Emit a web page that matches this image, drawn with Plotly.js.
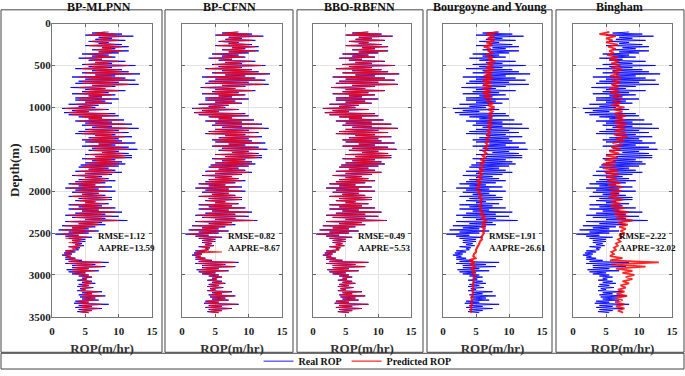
<!DOCTYPE html>
<html><head><meta charset="utf-8">
<script src="https://cdn.plot.ly/plotly-3.0.1.min.js"></script>
<style>html,body{margin:0;padding:0;background:#fff}#chart{width:685px;height:376px}</style>
</head><body><div id="chart"></div>
<script>
var panelTitles = ["BP-MLPNN", "BP-CFNN", "BBO-RBFNN", "Bourgoyne and Young", "Bingham"];
var rmseVals = ["1.12", "0.82", "0.49", "1.91", "2.22"];
var aapreVals = ["13.59", "8.67", "5.53", "26.61", "32.02"];
var xTicks = [0, 5, 10, 15];
var yTicks = [0, 500, 1000, 1500, 2000, 2500, 3000, 3500];

var depthFine = [100,112.5,125,137.5,150,162.5,175,187.5, 200,212.5,225,237.5,250,262.5,275,287.5, 300,312.5,325,337.5,350,362.5,375,387.5, 400,412.5,425,437.5,450,462.5,475,487.5, 500,512.5,525,537.5,550,562.5,575,587.5, 600,612.5,625,637.5,650,662.5,675,687.5, 700,712.5,725,737.5,750,762.5,775,787.5, 800,812.5,825,837.5,850,862.5,875,887.5, 900,912.5,925,937.5,950,962.5,975,987.5, 1000,1012.5,1025,1037.5,1050,1062.5,1075,1087.5, 1100,1112.5,1125,1137.5,1150,1162.5,1175,1187.5, 1200,1212.5,1225,1237.5,1250,1262.5,1275,1287.5, 1300,1312.5,1325,1337.5,1350,1362.5,1375,1387.5, 1400,1412.5,1425,1437.5,1450,1462.5,1475,1487.5, 1500,1512.5,1525,1537.5,1550,1562.5,1575,1587.5, 1600,1612.5,1625,1637.5,1650,1662.5,1675,1687.5, 1700,1712.5,1725,1737.5,1750,1762.5,1775,1787.5, 1800,1812.5,1825,1837.5,1850,1862.5,1875,1887.5, 1900,1912.5,1925,1937.5,1950,1962.5,1975,1987.5, 2000,2012.5,2025,2037.5,2050,2062.5,2075,2087.5, 2100,2112.5,2125,2137.5,2150,2162.5,2175,2187.5, 2200,2212.5,2225,2237.5,2250,2262.5,2275,2287.5, 2300,2312.5,2325,2337.5,2350,2362.5,2375,2387.5, 2400,2412.5,2425,2437.5,2450,2462.5,2475,2487.5, 2500,2512.5,2525,2537.5,2550,2562.5,2575,2587.5, 2600,2612.5,2625,2637.5,2650,2662.5,2675,2687.5, 2700,2712.5,2725,2737.5,2750,2762.5,2775,2787.5, 2800,2812.5,2825,2837.5,2850,2862.5,2875,2887.5, 2900,2912.5,2925,2937.5,2950,2962.5,2975,2987.5, 3000,3012.5,3025,3037.5,3050,3062.5,3075,3087.5, 3100,3112.5,3125,3137.5,3150,3162.5,3175,3187.5, 3200,3212.5,3225,3237.5,3250,3262.5,3275,3287.5, 3300,3312.5,3325,3337.5,3350,3362.5,3375,3387.5, 3400,3412.5,3425,3437.5,3450];

var depthCoarse = [100,125,150,175,200,225,250,275,300,325,350,375,400,425,450,475,500,525,550,575,600,625,650,675,700,725,750,775,800,825,850,875,900,925,950,975,1000,1025,1050,1075,1100,1125,1150,1175,1200,1225,1250,1275,1300,1325,1350,1375,1400,1425,1450,1475,1500,1525,1550,1575,1600,1625,1650,1675,1700,1725,1750,1775,1800,1825,1850,1875,1900,1925,1950,1975,2000,2025,2050,2075,2100,2125,2150,2175,2200,2225,2250,2275,2300,2325,2350,2375,2400,2425,2450,2475,2500,2525,2550,2575,2600,2625,2650,2675,2700,2725,2750,2775,2800,2825,2850,2875,2900,2925,2950,2975,3000,3025,3050,3075,3100,3125,3150,3175,3200,3225,3250,3275,3300,3325,3350,3375,3400,3425,3450];

var realROP = [8.5,6.0,10.5,5.0,12.2,7.0,9.0,6.5, 11.0,5.5,8.5,7.0,10.5,5.0,11.5,7.5, 9.5,6.0,11.5,7.0,10.0,4.5,8.5,6.0, 9.5,4.0,7.5,5.5,11.0,6.5,9.0,4.5, 12.5,5.5,9.0,3.5,10.5,6.0,11.5,4.5, 13.2,6.5,9.5,3.0,11.0,5.0,12.5,4.0, 10.0,3.5,13.0,6.0,9.5,2.8,8.0,5.0, 11.0,4.5,8.5,3.0,9.5,5.5,7.5,3.5, 10.0,3.5,8.0,5.0,9.0,2.5,7.0,4.0, 6.5,1.5,8.5,3.0,5.5,1.8,9.5,2.5, 10.0,4.0,7.5,5.5,10.8,3.5,9.0,5.0, 12.0,4.5,9.0,6.0,13.0,5.0,10.0,4.0, 11.5,3.5,9.5,6.5,12.0,5.5,10.0,4.5, 10.5,5.0,12.5,7.0,9.5,4.5,11.5,6.0, 12.8,5.5,10.0,7.5,11.5,5.0,12.0,6.5, 12.0,4.5,9.5,6.0,10.5,5.0,11.0,4.3, 10.0,4.0,8.5,5.5,9.5,3.5,10.5,5.0, 9.0,3.0,7.5,5.0,8.5,4.0,9.5,3.5, 8.0,2.5,6.5,4.0,9.0,2.0,7.0,3.5, 9.5,3.0,7.0,4.5,8.0,2.5,9.0,4.0, 9.0,3.5,6.5,5.0,8.5,2.5,7.5,4.0, 9.5,2.5,7.0,4.5,10.5,3.5,8.0,2.0, 10.0,3.0,8.0,5.0,11.3,2.0,7.5,4.0, 8.0,1.5,6.5,3.0,5.5,1.0,7.0,2.5, 5.5,0.5,4.0,2.0,6.0,2.5,5.0,3.0, 5.0,3.0,4.5,3.5,4.8,2.5,4.2,3.5, 4.0,2.0,3.5,1.8,3.0,1.5,2.8,2.0, 3.5,2.0,4.5,2.5,8.5,2.0,6.5,3.0, 8.0,3.0,5.5,2.2,7.0,2.5,5.0,3.0, 5.5,4.0,6.0,4.5,5.2,3.8,6.0,4.5, 6.5,4.0,5.5,3.8,6.2,4.2,5.0,3.8, 7.5,4.5,6.0,4.0,8.0,4.2,6.5,4.5, 7.0,3.5,5.5,3.3,8.5,4.0,6.0,3.5, 7.5,4.0,6.0,3.8,5.5];

var predMLPNN = [8.0,6.5,9.5,5.5,11.0,7.5,8.5,7.0, 10.0,6.0,8.0,7.5,9.5,5.5,10.5,7.5, 9.0,6.5,10.5,7.0,9.0,5.5,8.0,6.5, 9.0,5.0,7.5,6.0,10.0,6.5,8.5,5.0, 11.5,6.0,8.5,4.5,10.0,6.5,10.5,5.0, 12.0,6.5,9.0,4.0,10.5,5.5,11.5,4.5, 9.5,4.5,11.5,6.0,9.0,4.0,8.0,5.5, 10.0,5.0,8.0,4.0,9.0,5.5,7.5,4.0, 9.0,4.0,7.5,5.0,8.5,3.5,6.5,4.5, 6.0,2.0,8.0,3.5,5.5,2.5,8.5,3.0, 9.5,4.5,7.5,5.5,10.0,4.0,8.5,5.5, 11.0,5.0,8.5,6.5,11.5,5.5,9.5,5.0, 10.5,4.5,9.0,6.5,11.0,6.0,9.5,5.0, 10.0,5.5,11.0,7.0,9.0,5.5,10.5,6.5, 11.5,6.0,9.5,7.5,10.5,5.5,11.0,6.5, 11.0,5.0,9.0,6.5,10.0,5.5,10.0,5.0, 9.5,4.5,8.0,5.5,9.0,4.0,9.5,5.0, 8.5,3.5,7.0,5.0,8.0,4.5,8.5,4.0, 7.5,3.0,6.5,4.5,8.0,2.5,6.5,4.0, 8.5,3.5,7.0,4.5,7.5,3.0,8.5,4.5, 8.5,4.0,6.5,5.0,8.0,3.0,7.0,4.5, 9.0,3.0,7.0,4.5,9.5,4.0,7.5,2.5, 9.0,3.5,7.5,5.0,10.0,2.5,7.0,4.0, 7.0,2.0,6.0,3.0,5.0,1.5,6.5,3.0, 5.0,1.5,4.0,2.5,5.5,2.0,4.5,3.0, 4.5,2.5,4.0,3.5,4.5,2.5,4.0,3.0, 3.5,2.0,3.2,2.0,3.0,1.8,2.8,2.2, 3.5,2.5,4.0,2.5,7.5,2.5,6.0,3.5, 7.5,3.5,5.5,3.0,6.5,3.0,5.0,3.5, 5.5,4.5,6.0,4.8,5.2,4.2,5.8,4.8, 6.0,4.5,5.5,4.2,6.0,4.5,5.0,4.2, 7.0,5.0,6.0,4.5,7.5,4.5,6.5,4.8, 6.5,4.0,5.5,3.8,7.5,4.5,6.0,4.0, 7.0,4.5,6.0,4.2,5.5];

var predCFNN = [8.3,6.2,10.0,5.3,11.7,7.2,8.8,6.7, 10.5,5.8,8.3,7.2,10.0,5.3,11.0,7.5, 9.3,6.2,11.0,7.0,9.6,4.8,8.3,6.2, 9.3,4.5,7.5,5.8,10.5,6.5,8.8,4.8, 12.0,5.8,8.8,3.8,10.2,6.2,11.0,4.8, 12.7,6.5,9.3,3.5,10.8,5.2,12.0,4.3, 9.8,3.8,12.3,6.0,9.3,3.2,8.0,5.2, 10.5,4.8,8.3,3.5,9.3,5.5,7.5,3.8, 9.5,3.8,7.8,5.0,8.8,2.8,7.0,4.2, 6.3,1.8,8.3,3.2,5.5,2.0,9.0,2.8, 9.8,4.2,7.5,5.5,10.5,3.8,8.8,5.2, 11.5,4.8,8.8,6.2,12.3,5.2,9.8,4.3, 11.0,3.8,9.3,6.5,11.5,5.8,9.8,4.8, 10.3,5.2,11.8,7.0,9.3,4.8,11.0,6.2, 12.2,5.8,9.8,7.5,11.0,5.2,11.5,6.5, 11.3,4.8,9.3,6.2,10.2,5.2,10.5,4.5, 9.8,4.2,8.3,5.5,9.3,3.8,10.0,5.0, 8.8,3.3,7.5,5.0,8.3,4.2,9.0,3.8, 7.8,2.8,6.5,4.2,8.5,2.3,7.0,3.8, 9.0,3.3,7.0,4.5,7.8,2.8,8.8,4.2, 8.8,3.8,6.5,5.0,8.3,2.8,7.5,4.2, 9.3,2.8,7.0,4.5,10.0,3.8,7.8,2.3, 9.5,3.3,8.0,5.0,10.8,2.3,7.5,4.2, 7.5,1.8,6.3,3.2,5.3,1.3,6.8,2.8, 5.3,1.0,4.0,2.2,5.8,2.7,4.8,3.2, 4.8,3.2,4.5,3.5,4.7,2.8,4.2,3.5, 3.8,2.2,6.0,2.0,3.0,1.7,2.8,2.2, 3.5,2.2,4.3,2.7,8.0,2.3,6.3,3.2, 7.8,3.2,5.5,2.5,6.8,2.7,5.0,3.2, 5.5,4.2,6.0,4.7,5.2,4.0,5.8,4.7, 6.3,4.2,5.5,4.0,6.0,4.3,5.0,4.0, 7.3,4.7,6.0,4.2,7.8,4.3,6.5,4.7, 6.8,3.7,5.5,3.5,8.2,4.2,6.0,3.7, 7.3,4.2,6.0,4.0,5.5];

var predRBFNN = [8.4,6.1,10.3,5.1,12.0,7.1,8.9,6.6, 10.8,5.6,8.4,7.1,10.3,5.1,11.3,7.5, 9.4,6.1,11.3,7.0,9.8,4.6,8.4,6.1, 9.4,4.2,7.5,5.6,10.8,6.5,8.9,4.6, 12.3,5.6,8.9,3.6,10.4,6.1,11.3,4.6, 13.0,6.5,9.4,3.1,10.9,5.1,12.3,4.1, 9.9,3.6,12.8,6.0,9.4,2.9,8.0,5.1, 10.8,4.6,8.4,3.1,9.4,5.5,7.5,3.6, 9.8,3.6,7.9,5.0,8.9,2.6,7.0,4.1, 6.4,1.6,8.4,3.1,5.5,1.9,9.3,2.6, 9.9,4.1,7.5,5.5,10.7,3.6,8.9,5.1, 11.8,4.6,8.9,6.1,12.8,5.1,9.9,4.1, 11.4,3.6,9.4,6.5,11.8,5.6,9.9,4.6, 10.4,5.1,12.3,7.0,9.4,4.6,11.4,6.1, 12.6,5.6,9.9,7.5,11.4,5.1,11.8,6.5, 11.8,4.6,9.4,6.1,10.4,5.1,10.9,4.4, 9.9,4.1,8.4,5.5,9.4,3.6,10.4,5.0, 8.9,3.1,7.5,5.0,8.4,4.1,9.4,3.6, 7.9,2.6,6.5,4.1,8.9,2.1,7.0,3.6, 9.4,3.1,7.0,4.5,7.9,2.6,8.9,4.1, 8.9,3.6,6.5,5.0,8.4,2.6,7.5,4.1, 9.4,2.6,7.0,4.5,10.4,3.6,7.9,2.1, 9.9,3.1,8.0,5.0,11.1,2.1,7.5,4.1, 7.9,1.6,6.4,3.1,5.5,1.1,6.9,2.6, 5.5,0.7,4.0,2.1,5.9,2.6,5.0,3.1, 4.9,3.1,4.5,3.5,4.8,2.6,4.2,3.5, 4.0,2.1,3.5,1.9,3.0,1.6,2.8,2.1, 3.5,2.1,4.5,2.6,8.3,2.1,6.4,3.1, 7.9,3.1,5.5,2.3,6.9,2.6,5.0,3.1, 5.5,4.1,6.0,4.6,5.2,3.9,5.9,4.6, 6.4,4.1,5.5,3.9,6.1,4.3,5.0,3.9, 7.4,4.6,6.0,4.1,7.9,4.3,6.5,4.6, 6.9,3.6,5.5,3.4,8.4,4.1,6.0,3.6, 7.4,4.1,6.0,3.9,5.5];

var predBY = [8.3,6.5,7.8,6.8, 7.8,6.6,7.5,6.2, 7.2,6.8,7.6,6.5, 7.5,6.8,7.9,6.7, 7.6,6.5,7.8,6.3, 7.4,6.2,7.6,6.0, 7.3,6.1,7.4,6.0, 7.2,6.0,7.3,6.2, 7.4,6.6,7.6,6.8, 7.8,6.9,7.5,7.0, 7.4,7.0,7.3,6.9, 7.4,6.8,7.2,6.8, 7.1,6.7,7.0,6.6, 6.9,6.5,6.8,6.4, 6.7,6.2,6.6,6.0, 6.4,5.8,6.3,5.6, 6.2,5.6,6.0,5.5, 5.9,5.4,5.8,5.2, 5.7,5.3,5.6,5.0, 5.6,5.4,5.8,5.5, 5.9,5.6,5.8,5.5, 5.8,5.6,6.0,5.7, 6.3,5.9,6.5,6.0, 6.4,5.9,6.3,6.0, 6.2,6.0,5.8,5.9, 5.6,5.5,5.3,5.2, 5.0,5.0,4.7,4.6, 4.9,4.0,4.8,4.1, 4.9,4.2,4.8,4.5, 4.8,4.7,4.7,4.6, 4.6,4.5,4.6,4.5, 4.5,4.4,4.5,4.3, 4.4,4.3,4.4,4.2, 4.3,4.2,4.3];

var predBingham = [5.5,4.0,6.5,5.0, 6.0,5.0,6.8,5.3, 6.5,5.5,6.2,5.2, 6.8,5.5,7.0,5.8, 7.2,5.8,7.5,6.0, 7.0,5.6,7.4,5.9, 7.2,5.8,7.0,5.5, 7.0,5.6,7.3,6.0, 7.5,6.0,7.2,5.8, 7.8,6.2,7.5,6.3, 8.0,6.4,7.8,6.2, 8.2,6.5,7.9,6.3, 8.0,6.2,8.3,6.5, 7.8,6.0,7.5,5.8, 7.2,5.5,7.0,5.0, 6.8,4.8,6.5,4.5, 6.5,4.5,6.8,4.8, 7.0,5.0,6.6,5.2, 7.2,5.3,7.5,5.5, 7.3,5.6,7.0,5.4, 7.6,5.8,7.2,5.6, 7.8,6.0,8.5,6.2, 8.2,6.5,9.0,6.8, 8.3,7.0,8.0,7.2, 7.8,7.0,7.5,6.8, 7.2,6.5,6.8,6.2, 6.5,5.8,6.2,5.6, 7.5,5.6,13.0,5.8, 11.0,6.5,9.0,7.5, 9.3,8.0,9.0,7.5, 8.5,7.2,8.0,6.8, 7.8,6.6,8.2,6.5, 7.5,6.4,7.8,6.5, 7.8,6.8,7.6];

var predicted = [predMLPNN, predCFNN, predRBFNN, predBY, predBingham];
var predDepth = [depthFine, depthFine, depthFine, depthCoarse, depthCoarse];
var predWidth = [1.1, 1.1, 1.1, 2.2, 1.8];

var W = 685, H = 376;
var plotLeft = [52, 182, 313, 443, 573];
var plotRight = [152, 282, 411, 542, 672];
var frameL = [1, 165, 297, 427, 556];
var frameR = [162, 293, 423, 552, 684];
var plotTop = 24, plotBot = 322;
var serif = "Liberation Serif";
var blue = "rgba(0,0,255,0.9)";
var red = "rgba(255,0,0,0.85)";

var traces = [], layout = {
  width: W, height: H, margin: {l: 0, r: 0, t: 0, b: 0},
  paper_bgcolor: "#fff", plot_bgcolor: "#fff",
  font: {family: serif, color: "#222", weight: "bold"},
  showlegend: true,
  legend: {orientation: "h", x: 0.522, xanchor: "center", y: 1 - 367 / H, yanchor: "middle",
    font: {family: serif, size: 10, color: "#111", weight: "bold"}, bgcolor: "rgba(0,0,0,0)", tracegroupgap: 0, itemwidth: 30},
  shapes: [], annotations: []
};

for (var i = 0; i < 5; i++) {
  var s = i === 0 ? "" : String(i + 1);
  traces.push({x: realROP, y: depthFine, type: "scatter", mode: "lines", name: "Real ROP",
    line: {color: blue, width: 1}, xaxis: "x" + s, yaxis: "y" + s, showlegend: i === 0, legendgroup: "real"});
  traces.push({x: predicted[i], y: predDepth[i], type: "scatter", mode: "lines", name: "Predicted ROP",
    line: {color: red, width: predWidth[i]}, xaxis: "x" + s, yaxis: "y" + s, showlegend: i === 0, legendgroup: "pred"});
  layout["xaxis" + s] = {
    domain: [plotLeft[i] / W, plotRight[i] / W], anchor: "y" + s, range: [0, 15],
    tickvals: xTicks, ticks: "inside", ticklen: 3, tickcolor: "#666", showline: true, linecolor: "#777", mirror: "ticks",
    showgrid: true, gridcolor: "#e3e3e3", zeroline: false, ticklabelstandoff: 4,
    tickfont: {family: serif, size: 11, color: "#222", weight: "bold"},
    title: {text: "ROP(m/hr)", standoff: 7, font: {family: serif, size: 13, color: "#333", weight: "bold"}}
  };
  layout["yaxis" + s] = {
    domain: [1 - plotBot / H, 1 - plotTop / H], anchor: "x" + s, range: [3500, 0],
    tickvals: yTicks, ticks: "inside", ticklen: 3, tickcolor: "#666", showline: true, linecolor: "#777", mirror: "ticks",
    showgrid: true, gridcolor: "#e3e3e3", zeroline: false, showticklabels: i === 0, ticklabelstandoff: -2,
    tickfont: {family: serif, size: 11, color: "#222", weight: "bold"},
    title: i === 0 ? {text: "Depth(m)", standoff: 6, font: {family: serif, size: 13, color: "#222", weight: "bold"}} : {text: ""}
  };
  layout.shapes.push({type: "rect", xref: "paper", yref: "paper", x0: frameL[i] / W, x1: frameR[i] / W,
    y0: 1 - 358 / H, y1: 1 - 10 / H, line: {color: "#444", width: 1}});
  layout.annotations.push({text: panelTitles[i], xref: "paper", yref: "paper", x: ((plotLeft[i] + plotRight[i]) / 2 - 3) / W,
    y: 1 - 7 / H, xanchor: "center", yanchor: "middle", showarrow: false,
    font: {family: serif, size: 12, color: "#111", weight: "bold"}});
  layout.annotations.push({text: "RMSE=" + rmseVals[i] + "<br>AAPRE=" + aapreVals[i], xref: "x" + s, yref: "y" + s,
    x: 6.6, y: 2610, xanchor: "left", yanchor: "middle", align: "left", showarrow: false,
    font: {family: serif, size: 9, color: "#111", weight: "bold"}});
}
layout.shapes.push({type: "rect", xref: "paper", yref: "paper", x0: 1 / W, x1: 684 / W,
  y0: 1 - 375 / H, y1: 1 - 359 / H, line: {color: "#444", width: 1}});

Plotly.newPlot("chart", traces, layout, {staticPlot: true, displayModeBar: false});
</script></body></html>
